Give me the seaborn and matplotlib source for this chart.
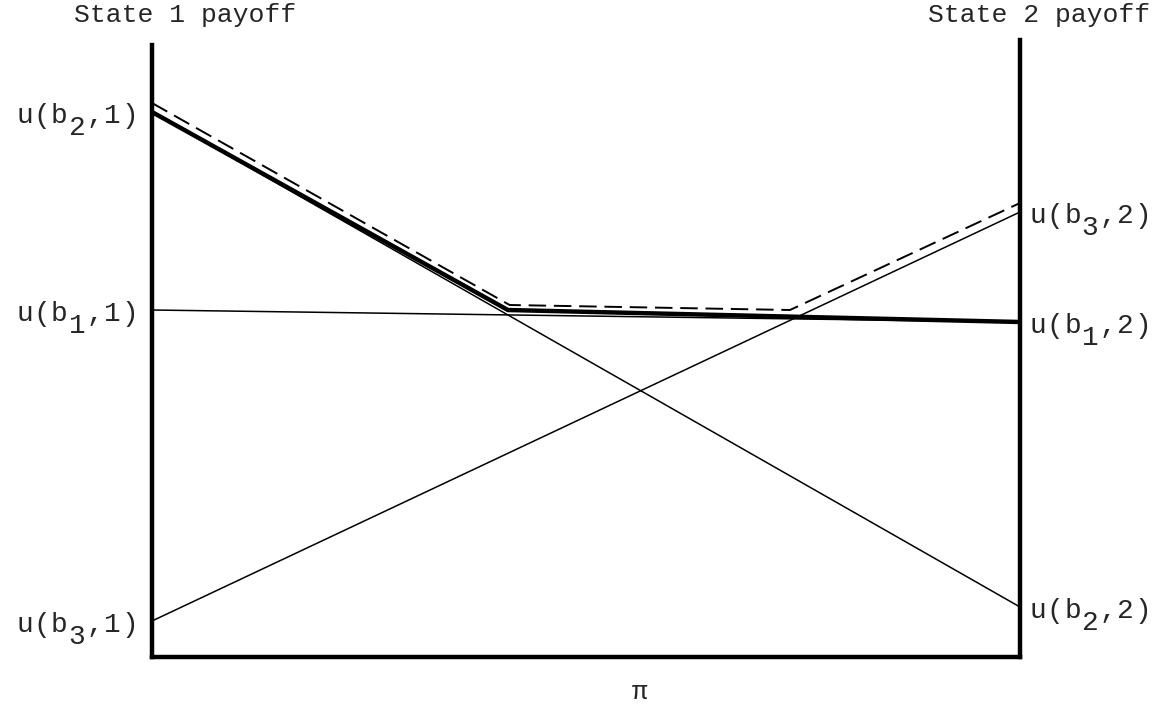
import seaborn as sns
import matplotlib.pyplot as plt
import matplotlib.transforms as mtransforms
import pandas as pd
import numpy as np

# payoff lines: value at state 1 (pi=0) and at state 2 (pi=1)
pi_ends = [0.0, 1.0]
u_b1 = [347, 335]
u_b2 = [545, 50]
u_b3 = [36, 445]
left_acts = ["2", "1", "3"]
right_acts = ["3", "1", "2"]

# heavy envelope and the dashed one drawn above it
env_x = [0.0, 0.41, 1.0]
env_y = [545, 347, 335]
dash_x = [0.0, 0.412, 0.735, 1.0]
dash_y = [554, 352, 347, 454]

sns.set_style("white")
plt.rcParams["font.family"] = ["Liberation Mono", "DejaVu Sans Mono"]

fig = plt.figure(figsize = (11.59, 7.23), dpi = 100)
ax = fig.add_axes([152 / 1159, 66 / 723, 868 / 1159, 617 / 723])

lines = pd.DataFrame({
    "pi": pi_ends * 3,
    "u": u_b1 + u_b2 + u_b3,
    "act": ["b1"] * 2 + ["b2"] * 2 + ["b3"] * 2,
})
sns.lineplot(data = lines, x = "pi", y = "u", units = "act", estimator = None,
             color = "black", linewidth = 1.1, ax = ax)
sns.lineplot(x = env_x, y = env_y, color = "black", linewidth = 3.2, ax = ax)
ax.plot(dash_x, dash_y, color = "black", linewidth = 1.4, dashes = (9, 4))

ax.set_xlim(0, 1)
ax.set_ylim(0, 617)
ax.set_xticks([])
ax.set_yticks([])
ax.set_xlabel("")
ax.set_ylabel("")
ax.spines["top"].set_visible(False)
for s in ["left", "right", "bottom"]:
    ax.spines[s].set_linewidth(3.2)
    ax.spines[s].set_color("black")
ax.spines["left"].set_bounds(0, 612)
ax.spines["right"].set_bounds(0, 617)

fs = 19
lfs = 20
cw = 0.63 * lfs  # typewriter cell width in points
trans = mtransforms.blended_transform_factory(ax.transAxes, ax.transData)


def typed_label(x, y, act, state, side):
    # typewriter style: "u(b", lowered full size digit, ",s)"
    pieces = [("u", 0.0, 1), ("(", 0.0, 1), ("b", 0.0, 1), (act, -8.5, 1),
              (",", 0.0, 1), (state, 0.0, 1), (")", 0.0, 1)]
    pos = -7 * cw if side == "left" else 0.0
    for txt, dy, n in pieces:
        t = mtransforms.offset_copy(trans, fig = fig, x = pos + cw / 2, y = dy, units = "points")
        ax.text(x, y, txt, transform = t, ha = "center", va = "center", fontsize = lfs)
        pos += n * cw


left_vals = [u_b2[0], u_b1[0], u_b3[0]]
right_vals = [u_b3[1], u_b1[1], u_b2[1]]
for a, v in zip(left_acts, left_vals):
    typed_label(-0.016, v - 4, a, "1", "left")
for a, v in zip(right_acts, right_vals):
    typed_label(1.010, v - 4, a, "2", "right")

fig.text(185 / 1159, 1 - 15 / 723, "State 1 payoff", ha = "center", va = "center", fontsize = fs)
fig.text(1150 / 1159, 1 - 15 / 723, "State 2 payoff", ha = "right", va = "center", fontsize = fs)
fig.text(640 / 1159, 1 - 692 / 723, "π", ha = "center", va = "center", fontsize = fs)

plt.savefig("out.png", dpi = 100)
plt.close()
